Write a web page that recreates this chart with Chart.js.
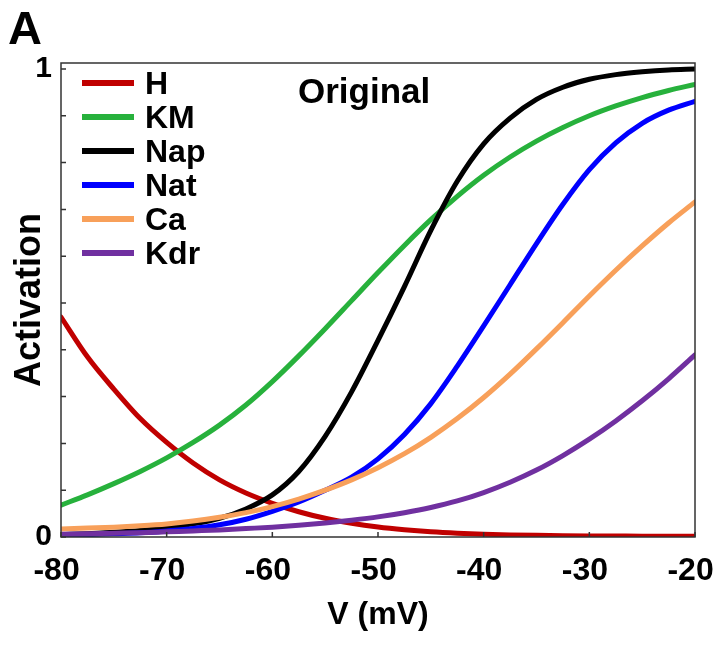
<!DOCTYPE html>
<html>
<head>
<meta charset="utf-8">
<script src="https://cdn.jsdelivr.net/npm/chart.js@4"></script>
<style>
  body { margin: 0; background: #fff; }
  #wrap { position: relative; width: 717px; height: 650px; }
  #legend {
    position: absolute; left: 82px; top: 66px;
    font-family: Arial, "Liberation Sans", sans-serif; font-weight: bold; font-size: 32px; color: #000;
  }
  .row { display: flex; align-items: center; height: 34px; line-height: 34px; }
  .swatch { width: 52px; height: 6px; margin-right: 11px; }
</style>
</head>
<body>
<div id="wrap">
  <canvas id="chart" width="717" height="650"></canvas>
  <div id="legend"></div>
</div>
<script>
// membrane potential (mV)
const voltage = [-80, -77.5, -75, -72.5, -70, -67.5, -65, -62.5, -60, -57.5, -55, -52.5, -50,
                 -47.5, -45, -42.5, -40, -37.5, -35, -32.5, -30, -27.5, -25, -22.5, -20];

// steady-state activation of each current
const actH   = [0.47, 0.385, 0.316, 0.253, 0.202, 0.158, 0.122, 0.094, 0.072, 0.054, 0.040, 0.0295, 0.0215,
                0.0157, 0.0113, 0.0082, 0.006, 0.0045, 0.0035, 0.0028, 0.0023, 0.002, 0.0018, 0.0016, 0.0015];
const actKM  = [0.068, 0.090, 0.114, 0.140, 0.169, 0.202, 0.239, 0.282, 0.332, 0.387, 0.445, 0.505, 0.565,
                0.623, 0.678, 0.728, 0.773, 0.812, 0.846, 0.875, 0.900, 0.921, 0.939, 0.954, 0.967];
const actNap = [0.005, 0.007, 0.01, 0.014, 0.02, 0.028, 0.04, 0.06, 0.09, 0.14, 0.215, 0.31, 0.42,
                0.535, 0.655, 0.76, 0.84, 0.895, 0.935, 0.961, 0.978, 0.988, 0.994, 0.998, 1.0];
const actNat = [0.004, 0.005, 0.007, 0.009, 0.013, 0.018, 0.026, 0.038, 0.055, 0.075, 0.100, 0.128, 0.167,
                0.219, 0.285, 0.365, 0.451, 0.539, 0.627, 0.711, 0.785, 0.842, 0.884, 0.912, 0.931];
const actCa  = [0.017, 0.019, 0.021, 0.024, 0.028, 0.034, 0.042, 0.052, 0.065, 0.081, 0.100, 0.122, 0.148,
                0.178, 0.213, 0.253, 0.298, 0.348, 0.402, 0.458, 0.515, 0.570, 0.622, 0.671, 0.716];
const actKdr = [0.006, 0.007, 0.008, 0.009, 0.011, 0.013, 0.015, 0.018, 0.021, 0.025, 0.030, 0.036, 0.043,
                0.052, 0.063, 0.077, 0.095, 0.117, 0.143, 0.174, 0.209, 0.248, 0.291, 0.338, 0.389];

const names  = ['H', 'KM', 'Nap', 'Nat', 'Ca', 'Kdr'];
const series = [actH, actKM, actNap, actNat, actCa, actKdr];
const colors = ['#C00000', '#27B13C', '#000000', '#0000FF', '#F8A05A', '#7030A0'];

const FONT = 'Arial, "Liberation Sans", sans-serif';

// frame, inward tick marks and the panel texts
const framePlugin = {
  id: 'frame',
  afterDraw(chart) {
    const { ctx, chartArea: a, scales } = chart;
    ctx.save();
    ctx.strokeStyle = '#333';
    ctx.lineWidth = 1.5;
    ctx.beginPath();
    scales.x.ticks.forEach(t => {
      const px = scales.x.getPixelForValue(t.value);
      ctx.moveTo(px, a.bottom);
      ctx.lineTo(px, a.bottom - 5);
    });
    scales.y.ticks.forEach(t => {
      const py = scales.y.getPixelForValue(t.value);
      ctx.moveTo(a.left, py);
      ctx.lineTo(a.left + 5, py);
    });
    ctx.stroke();
    ctx.strokeRect(a.left, a.top, a.right - a.left, a.bottom - a.top);

    ctx.fillStyle = '#000';
    ctx.textBaseline = 'alphabetic';
    ctx.textAlign = 'left';
    ctx.font = 'bold 35px ' + FONT;
    ctx.fillText('Original', 298, 103);
    ctx.font = 'bold 47px ' + FONT;
    ctx.fillText('A', 8, 44);
    ctx.restore();
  }
};

const datasets = series.map((vals, i) => ({
  label: names[i],
  data: voltage.map((v, j) => ({ x: v, y: vals[j] })),
  borderColor: colors[i],
  backgroundColor: colors[i],
  borderWidth: 5,
  borderCapStyle: 'round',
  pointRadius: 0,
  cubicInterpolationMode: 'monotone',
  order: series.length - i // later currents drawn on top
}));

const ctx = document.getElementById('chart').getContext('2d');
const chart = new Chart(ctx, {
  type: 'line',
  data: { datasets },
  options: {
    responsive: false,
    animation: false,
    layout: { padding: { top: 63, right: 22, bottom: 0, left: 0 } },
    plugins: { legend: { display: false }, tooltip: { enabled: false } },
    scales: {
      x: {
        type: 'linear',
        min: -80, max: -20,
        grid: { display: false, drawTicks: false },
        border: { display: false },
        ticks: {
          stepSize: 10, includeBounds: false, padding: 15, color: '#000',
          font: { family: FONT, size: 32, weight: 'bold' },
          callback: v => v + ' '
        },
        title: {
          display: true, text: 'V (mV)', color: '#000',
          font: { family: FONT, size: 32, weight: 'bold' },
          padding: { top: 0, bottom: 16 }
        },
        afterFit: s => { s.height = 113; s.paddingLeft = 0; s.paddingRight = 0; }
      },
      y: {
        min: 0, max: 1.0128,
        grid: { display: false, drawTicks: false },
        border: { display: false },
        ticks: {
          stepSize: 0.1, includeBounds: false, padding: 9, color: '#000',
          font: { family: FONT, size: 30, weight: 'bold' },
          callback: v => (Math.abs(v) < 1e-9 ? '0' : Math.abs(v - 1) < 1e-9 ? '1' : '')
        },
        title: {
          display: true, text: 'Activation', color: '#000',
          font: { family: FONT, size: 36, weight: 'bold' },
          padding: { top: 8, bottom: 0 }
        },
        afterFit: s => { s.width = 61; s.paddingTop = 0; s.paddingBottom = 0; }
      }
    }
  },
  plugins: [framePlugin]
});

// legend sits inside the plot, built from the datasets
const legend = document.getElementById('legend');
chart.data.datasets.forEach(ds => {
  const row = document.createElement('div');
  row.className = 'row';
  row.innerHTML = `<span class="swatch" style="background:${ds.borderColor}"></span><span>${ds.label}</span>`;
  legend.appendChild(row);
});
</script>
</body>
</html>
